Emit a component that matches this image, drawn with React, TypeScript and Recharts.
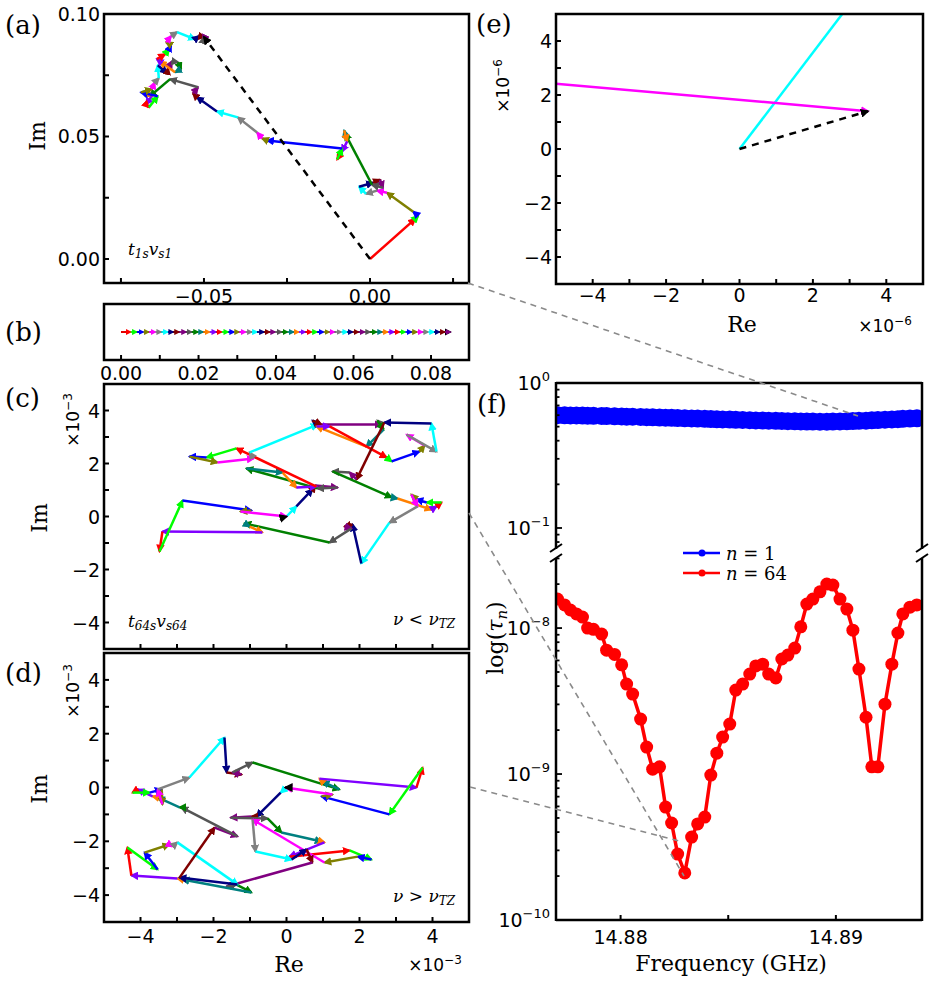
import React from "react";
import { ScatterChart, Scatter, XAxis, YAxis, LineChart, Line } from "recharts";

const SANS = "DejaVu Sans";
const SERIF = "DejaVu Serif";

const PALETTE = [
  "#ff0000", "#00ff00", "#0000ff", "#808000", "#ff00ff",
  "#808080", "#00ffff", "#000080", "#800000", "#800080",
  "#555555", "#008000", "#008080", "#ff8000", "#8000ff",
];

// (a) t1s vs1 phasor chain, Re / Im
const aRe = [0, 0.0136, 0.0145, 0.013, 0.0051, 0.0021, -0.0012, -0.0033, 0.0009, 0.003, 0.0039, 0.0006, -0.0075, -0.0078, -0.0069, -0.0084, -0.0099, -0.0084, -0.031, -0.0325, -0.034, -0.0398, -0.0461, -0.0521, -0.0533, -0.0518, -0.0602, -0.0663, -0.0681, -0.0657, -0.0675, -0.0666, -0.0639, -0.069, -0.0657, -0.0648, -0.0636, -0.0639, -0.0611, -0.0608, -0.0596, -0.0578, -0.0569, -0.0587, -0.0633, -0.0642, -0.0617, -0.0605, -0.0599, -0.0614, -0.0599, -0.0581, -0.0527, -0.0515, -0.0497, -0.0503, -0.05];
const aIm = [0, 0.0164, 0.0176, 0.0193, 0.027, 0.0279, 0.0266, 0.0295, 0.0311, 0.0324, 0.0291, 0.0303, 0.0512, 0.0525, 0.048, 0.0439, 0.0406, 0.0451, 0.0484, 0.0492, 0.0516, 0.0578, 0.0602, 0.066, 0.0676, 0.0701, 0.0734, 0.0664, 0.0684, 0.0664, 0.0631, 0.0619, 0.0664, 0.068, 0.0693, 0.0721, 0.0738, 0.0791, 0.0758, 0.0779, 0.0807, 0.0803, 0.0775, 0.0762, 0.0807, 0.0816, 0.0836, 0.0857, 0.0873, 0.0885, 0.091, 0.0926, 0.0897, 0.091, 0.0906, 0.0889, 0.0906];

// (b) chain along the real axis
const bRe = [0, 0.0025, 0.0041, 0.0058, 0.0072, 0.0089, 0.0104, 0.0121, 0.0135, 0.015, 0.0168, 0.0183, 0.0199, 0.0212, 0.0229, 0.0246, 0.026, 0.0277, 0.0292, 0.0305, 0.0322, 0.0338, 0.0351, 0.0369, 0.0384, 0.0398, 0.0415, 0.043, 0.0446, 0.0459, 0.0476, 0.0492, 0.0506, 0.0523, 0.0538, 0.0551, 0.0569, 0.0584, 0.0598, 0.0613, 0.0629, 0.0643, 0.066, 0.0674, 0.0689, 0.0705, 0.0719, 0.0734, 0.075, 0.0764, 0.0779, 0.0793, 0.0808, 0.0822, 0.0836, 0.085];

// (c) t64s vs64, nu < nu_TZ (x1e-3)
const cRe = [0, 0.27, 0.71, 0.79, 1.4, 0.85, -1.1, -0.11, 0.27, 0.82, -1.37, -2.19, -2.66, -1.89, -0.9, -1.01, 0.85, 0.71, 0.96, 2.6, 2.49, 2.66, 2.19, 0.82, 1.18, 2.74, 2.88, 3.64, 3.78, 3.29, 4.11, 3.97, 2.68, 1.92, 1.73, 1.26, 2.88, 3.04, 3.97, 4.11, 4.25, 3.84, 3.56, 3.42, 3.59, 2.82, 2.05, 1.81, 1.59, 1.78, 1.18, -1.15, -1.01, -0.66, -3.4, -3.48, -2.85, -0.96, -1.26, 0.0035];
const cIm = [0, 0.38, 1.02, 1.17, 1.09, 1.06, 1.81, 1.66, 1.09, 1.13, 2.57, 2.23, 2.26, 2.04, 2.19, 2.42, 3.47, 3.62, 3.47, 3.47, 3.62, 3.28, 2.64, 3.4, 3.4, 2.23, 2.08, 2.45, 2.68, 3.09, 2.45, 3.51, 3.55, 1.4, 1.66, 1.7, 0.72, 0.68, 0.26, 0.38, 0.53, 0.53, 0.64, 0.83, 0.38, -0.23, -1.77, -0.3, -0.38, -0.45, -0.98, -0.26, -0.38, -0.6, -0.57, -1.32, 0.6, 0.23, 0.19, 0.0014];

// (d) nu > nu_TZ (x1e-3)
const dRe = [0, -0.16, -0.82, -0.96, -1.53, -0.52, -0.14, 0.96, 1.04, 0.08, 1.73, 2.33, 1.95, 1.04, -0.93, -0.85, 0.14, 0.55, 0.71, -1.64, -1.37, -0.96, -2.85, -2.99, -4.25, -4.36, -3.53, -3.89, -3.21, -3.12, -2.99, -1.34, -2.93, -1.97, -1.34, -2.88, -2.93, -3.53, -3.67, -4.08, -4.22, -3.75, -3.42, -3.4, -3.53, -2.66, -1.7, -1.64, -1.23, -1.48, -0.93, 1.45, 0.99, 0.9, 3.56, 3.73, 2.82, 0.96, 1.26, -0.03];
const dIm = [0, -0.19, -1.08, -1.08, -1.12, -1.15, -1.67, -2.01, -2.04, -2.57, -2.34, -2.68, -2.57, -2.79, -1.19, -2.38, -2.68, -2.3, -2.79, -3.68, -3.61, -3.9, -3.42, -3.38, -3.27, -2.23, -3.05, -2.42, -2.12, -2.19, -2.04, -3.61, -3.35, -1.49, -1.82, -0.74, -0.74, -0.37, -0.33, -0.07, -0.19, -0.19, -0.07, -0.63, -0.07, 0.37, 1.86, 0.56, 0.48, 0.56, 0.93, -0.07, 0.22, 0.33, 0, 0.74, -1.0, -0.33, -0.26, 0];

// (e) first and last links of (c) near the origin (x1e-6)
const eFirstRe = [0, 3.36];
const eFirstIm = [0, 6.0];
const eLastRe = [-6.0, 3.5];
const eLastIm = [2.54, 1.4];

// (f) tau_n vs frequency
const freqs = [14.87707, 14.8774, 14.87767, 14.87795, 14.87823, 14.87847, 14.87874, 14.87912, 14.87935, 14.87972, 14.88005, 14.88028, 14.88056, 14.88093, 14.88121, 14.88149, 14.88181, 14.88209, 14.88237, 14.88265, 14.88298, 14.8833, 14.88358, 14.88391, 14.88419, 14.88447, 14.88474, 14.88507, 14.88535, 14.88567, 14.886, 14.88628, 14.8866, 14.88688, 14.88721, 14.88749, 14.88777, 14.88809, 14.88837, 14.88865, 14.88893, 14.88926, 14.88958, 14.88986, 14.89019, 14.89051, 14.89079, 14.89107, 14.8914, 14.89167, 14.89195, 14.89228, 14.8926, 14.89288, 14.89311, 14.89344, 14.89376];
const tau1 = [0.6, 0.599, 0.598, 0.597, 0.596, 0.595, 0.594, 0.592, 0.591, 0.589, 0.588, 0.586, 0.585, 0.583, 0.581, 0.58, 0.578, 0.576, 0.575, 0.573, 0.571, 0.569, 0.568, 0.566, 0.564, 0.562, 0.561, 0.559, 0.557, 0.556, 0.554, 0.552, 0.551, 0.549, 0.548, 0.547, 0.545, 0.544, 0.543, 0.542, 0.542, 0.541, 0.541, 0.542, 0.543, 0.544, 0.546, 0.548, 0.55, 0.553, 0.555, 0.558, 0.561, 0.563, 0.566, 0.568, 0.571];
const tau64 = [1.58e-8, 1.44e-8, 1.33e-8, 1.25e-8, 1.19e-8, 1.0e-8, 9.8e-9, 9.1e-9, 7.06e-9, 6.6e-9, 5.6e-9, 4.13e-9, 3.53e-9, 2.38e-9, 1.53e-9, 1.08e-9, 1.12e-9, 5.94e-10, 4.62e-10, 2.83e-10, 2.1e-10, 3.7e-10, 4.55e-10, 5.07e-10, 9.84e-10, 1.39e-9, 1.79e-9, 2.2e-9, 3.76e-9, 4.13e-9, 4.84e-9, 5.5e-9, 5.66e-9, 4.84e-9, 4.55e-9, 6.14e-9, 6.53e-9, 7.29e-9, 1.02e-8, 1.46e-8, 1.58e-8, 1.77e-8, 2.0e-8, 1.97e-8, 1.58e-8, 1.35e-8, 9.68e-9, 5.24e-9, 2.45e-9, 1.12e-9, 1.12e-9, 3.01e-9, 5.66e-9, 9.25e-9, 1.25e-8, 1.39e-8, 1.44e-8];

const fRows = freqs.map((f, i) => ({ f, t1: tau1[i], t64: tau64[i] }));

const near = (a: number, b: number) => Math.abs(a - b) < 1e-9;
const minus = (s: string) => s.replace("-", "\u2212");

function labelSet(pairs: [number, string][]) {
  return (v: number) => {
    const hit = pairs.find((p) => near(p[0], v));
    return hit ? hit[1] : null;
  };
}
const evenInts = labelSet([[-4, "\u22124"], [-2, "\u22122"], [0, "0"], [2, "2"], [4, "4"]]);
const noLabel = () => null;
const unitTicks = [-4, -3, -2, -1, 0, 1, 2, 3, 4];

function bottomTick(labelOf: (v: number) => string | null, gap: number) {
  return (p: any) => {
    const s = labelOf(p.payload.value);
    return (
      <g>
        <line x1={p.x} y1={p.y} x2={p.x} y2={p.y - 5} stroke="#000" strokeWidth={2} />
        {s !== null && (
          <text x={p.x} y={p.y + gap} textAnchor="middle" fontFamily={SANS} fontSize={19} fill="#000">
            {s}
          </text>
        )}
      </g>
    );
  };
}

function leftTick(labelOf: (v: number) => string | null) {
  return (p: any) => {
    const s = labelOf(p.payload.value);
    return (
      <g>
        <line x1={p.x} y1={p.y} x2={p.x + 5} y2={p.y} stroke="#000" strokeWidth={2} />
        {s !== null && (
          <text x={p.x - 4} y={p.y + 7} textAnchor="end" fontFamily={SANS} fontSize={19} fill="#000">
            {s}
          </text>
        )}
      </g>
    );
  };
}

function logTick(p: any) {
  const v = p.payload.value;
  const e = Math.round(Math.log10(v));
  const major = Math.abs(v / Math.pow(10, e) - 1) < 1e-6;
  return (
    <g>
      <line x1={p.x} y1={p.y} x2={p.x + (major ? 6 : 3.5)} y2={p.y} stroke="#000" strokeWidth={1.8} />
      {major && (
        <text x={p.x - 6} y={p.y + 7} textAnchor="end" fontFamily={SANS} fontSize={19} fill="#000">
          10
          <tspan dy={-9} fontSize={13}>{minus(String(e))}</tspan>
        </text>
      )}
    </g>
  );
}

function logTicks(lo: number, hi: number) {
  const out: number[] = [];
  for (let d = -11; d <= 0; d++) {
    for (let k = 1; k <= 9; k++) {
      const v = k * Math.pow(10, d);
      if (v >= lo * 0.999 && v <= hi * 1.001) out.push(v);
    }
  }
  return out;
}

const noShape = () => <g />;

function segments(re: number[], im: number[], offset: number, w: number, id: string) {
  const out = [];
  for (let i = 0; i < re.length - 1; i++) {
    const ci = (i + offset) % PALETTE.length;
    out.push(
      <Scatter
        key={id + i}
        data={[{ x: re[i], y: im[i] }, { x: re[i + 1], y: im[i + 1] }]}
        fill={PALETTE[ci]}
        line={{ stroke: PALETTE[ci], strokeWidth: w, markerEnd: `url(#ah${ci})` }}
        shape={noShape}
        isAnimationActive={false}
      />
    );
  }
  return out;
}

function resultant(endRe: number, endIm: number, id: string, w = 2.5) {
  return (
    <Scatter
      key={id}
      data={[{ x: 0, y: 0 }, { x: endRe, y: endIm }]}
      fill="#000"
      line={{ stroke: "#000", strokeWidth: w, strokeDasharray: "7 6", markerEnd: "url(#ahk)" }}
      shape={noShape}
      isAnimationActive={false}
    />
  );
}

function PhasorPanel(props: {
  box: number[];
  margin: { top: number; right: number; bottom: number; left: number };
  yWidth: number;
  xHeight: number;
  xDomain: number[];
  yDomain: number[];
  xTicks: number[];
  yTicks?: number[];
  xLabel: (v: number) => string | null;
  yLabel?: (v: number) => string | null;
  xGap: number;
  items: React.ReactNode[];
}) {
  const { box, margin } = props;
  return (
    <div style={{ position: "absolute", left: box[0], top: box[1] }}>
      <ScatterChart width={box[2]} height={box[3]} margin={margin}>
        <XAxis
          type="number"
          dataKey="x"
          domain={props.xDomain}
          allowDataOverflow
          ticks={props.xTicks}
          interval={0}
          tick={bottomTick(props.xLabel, props.xGap)}
          tickLine={false}
          axisLine={false}
          tickSize={0}
          tickMargin={0}
          height={props.xHeight}
        />
        <YAxis
          type="number"
          dataKey="y"
          domain={props.yDomain}
          allowDataOverflow
          ticks={props.yTicks}
          interval={0}
          tick={props.yTicks ? leftTick(props.yLabel || noLabel) : false}
          tickLine={false}
          axisLine={false}
          tickSize={0}
          tickMargin={0}
          width={props.yWidth}
        />
        {props.items}
      </ScatterChart>
    </div>
  );
}

function Sup({ base, exp, ...rest }: any) {
  return (
    <text {...rest}>
      {base}
      <tspan dy={-7} fontSize={12}>{exp}</tspan>
    </text>
  );
}

export default function App() {
  const aN = aRe.length - 1;
  const cN = cRe.length - 1;
  const dN = dRe.length - 1;
  const bIm = bRe.map(() => 0);
  const frame = { fill: "none", stroke: "#000", strokeWidth: 2.5 };
  const zoomLine = { stroke: "#8a8a8a", strokeWidth: 1.6, strokeDasharray: "6 5" };

  return (
    <div style={{ position: "absolute", left: 0, top: 0, width: 935, height: 985, background: "#fff", overflow: "hidden" }}>
      {/* (a) */}
      <PhasorPanel
        box={[0, 0, 480, 310]}
        margin={{ top: 14, right: 11, bottom: 0, left: 0 }}
        yWidth={104}
        xHeight={27}
        xDomain={[-0.0801, 0.0298]}
        yDomain={[-0.0098, 0.1]}
        xTicks={[-0.075, -0.05, -0.025, 0, 0.025]}
        yTicks={[0, 0.025, 0.05, 0.075, 0.1]}
        xLabel={labelSet([[-0.05, "\u22120.05"], [0, "0.00"]])}
        yLabel={labelSet([[0, "0.00"], [0.05, "0.05"], [0.1, "0.10"]])}
        xGap={20}
        items={[...segments(aRe, aIm, 0, 2.5, "a"), resultant(aRe[aN], aIm[aN], "ar")]}
      />
      {/* (b) */}
      <PhasorPanel
        box={[0, 290, 480, 100]}
        margin={{ top: 14, right: 11, bottom: 0, left: 0 }}
        yWidth={104}
        xHeight={30}
        xDomain={[-0.0044, 0.0898]}
        yDomain={[-1, 1]}
        xTicks={[0, 0.01, 0.02, 0.03, 0.04, 0.05, 0.06, 0.07, 0.08]}
        xLabel={labelSet([[0, "0.00"], [0.02, "0.02"], [0.04, "0.04"], [0.06, "0.06"], [0.08, "0.08"]])}
        xGap={20}
        items={[resultant(bRe[bRe.length - 1], 0, "br", 2), ...segments(bRe, bIm, 0, 1.8, "b")]}
      />
      {/* (c) */}
      <PhasorPanel
        box={[0, 370, 480, 285]}
        margin={{ top: 14, right: 11, bottom: 0, left: 0 }}
        yWidth={104}
        xHeight={6}
        xDomain={[-5, 5]}
        yDomain={[-5, 5]}
        xTicks={unitTicks}
        yTicks={unitTicks}
        xLabel={noLabel}
        yLabel={evenInts}
        xGap={20}
        items={[...segments(cRe, cIm, 6, 2.5, "c"), resultant(cRe[cN], cIm[cN], "cr")]}
      />
      {/* (d) */}
      <PhasorPanel
        box={[0, 640, 480, 310]}
        margin={{ top: 13, right: 11, bottom: 0, left: 0 }}
        yWidth={104}
        xHeight={28}
        xDomain={[-5, 5]}
        yDomain={[-5, 5]}
        xTicks={unitTicks}
        yTicks={unitTicks}
        xLabel={evenInts}
        yLabel={evenInts}
        xGap={21}
        items={[...segments(dRe, dIm, 6, 2.5, "d"), resultant(dRe[dN], dIm[dN], "dr")]}
      />
      {/* (e) */}
      <PhasorPanel
        box={[470, 0, 465, 310]}
        margin={{ top: 14, right: 12, bottom: 0, left: 0 }}
        yWidth={86}
        xHeight={26}
        xDomain={[-5, 5]}
        yDomain={[-5, 5]}
        xTicks={unitTicks}
        yTicks={unitTicks}
        xLabel={evenInts}
        yLabel={evenInts}
        xGap={18}
        items={[
          ...segments(eFirstRe, eFirstIm, 6, 2.5, "e1"),
          ...segments(eLastRe, eLastIm, 4, 2.5, "e2"),
          resultant(eLastRe[1], eLastIm[1], "er"),
        ]}
      />
      {/* (f) upper segment */}
      <div style={{ position: "absolute", left: 470, top: 370 }}>
        <LineChart width={465} height={180} data={fRows} margin={{ top: 13, right: 13, bottom: 0, left: 0 }}>
          <XAxis type="number" dataKey="f" domain={[14.877, 14.894]} allowDataOverflow hide />
          <YAxis
            type="number"
            scale="log"
            domain={[0.0705, 1]}
            allowDataOverflow
            ticks={logTicks(0.0705, 1)}
            interval={0}
            tick={logTick}
            tickLine={false}
            axisLine={false}
            tickSize={0}
            tickMargin={0}
            width={86}
          />
          <Line dataKey="t1" stroke="#0000ff" strokeWidth={3} dot={{ r: 9, fill: "#0000ff", stroke: "none" }} isAnimationActive={false} />
        </LineChart>
      </div>
      {/* (f) lower segment */}
      <div style={{ position: "absolute", left: 470, top: 550 }}>
        <LineChart width={465} height={435} data={fRows} margin={{ top: 8, right: 13, bottom: 0, left: 0 }}>
          <XAxis
            type="number"
            dataKey="f"
            domain={[14.877, 14.894]}
            allowDataOverflow
            ticks={[14.88, 14.885, 14.89]}
            interval={0}
            tick={bottomTick(labelSet([[14.88, "14.88"], [14.89, "14.89"]]), 24)}
            tickLine={false}
            axisLine={false}
            tickSize={0}
            tickMargin={0}
            height={65}
          />
          <YAxis
            type="number"
            scale="log"
            domain={[1e-10, 3.02e-8]}
            allowDataOverflow
            ticks={logTicks(1e-10, 3.02e-8)}
            interval={0}
            tick={logTick}
            tickLine={false}
            axisLine={false}
            tickSize={0}
            tickMargin={0}
            width={86}
          />
          <Line dataKey="t64" stroke="#ff0000" strokeWidth={3.5} dot={{ r: 6.5, fill: "#ff0000", stroke: "none" }} isAnimationActive={false} />
        </LineChart>
      </div>

      <svg width={935} height={985} style={{ position: "absolute", left: 0, top: 0, pointerEvents: "none" }}>
        <defs>
          {PALETTE.map((c, i) => (
            <marker key={i} id={`ah${i}`} viewBox="0 0 10 10" refX="8" refY="5" markerWidth="3.4" markerHeight="3.4" orient="auto" markerUnits="strokeWidth">
              <path d="M0,0 L10,5 L0,10 z" fill={c} />
            </marker>
          ))}
          <marker id="ahk" viewBox="0 0 10 10" refX="8" refY="5" markerWidth="3.6" markerHeight="3.6" orient="auto" markerUnits="strokeWidth">
            <path d="M0,0 L10,5 L0,10 z" fill="#000" />
          </marker>
        </defs>

        {/* frames */}
        <rect x={104} y={14} width={365} height={269} {...frame} />
        <rect x={104} y={304} width={365} height={56} {...frame} />
        <rect x={104} y={384} width={365} height={265} {...frame} />
        <rect x={104} y={653} width={365} height={269} {...frame} />
        <rect x={556} y={14} width={367} height={270} {...frame} />
        <line x1={556} y1={383} x2={922} y2={383} {...frame} />
        <line x1={556} y1={920} x2={922} y2={920} {...frame} />
        <line x1={556} y1={382} x2={556} y2={549} {...frame} />
        <line x1={556} y1={558} x2={556} y2={921} {...frame} />
        <line x1={922} y1={382} x2={922} y2={549} {...frame} />
        <line x1={922} y1={558} x2={922} y2={921} {...frame} />
        {[556, 922].map((x) => (
          <g key={x} stroke="#000" strokeWidth={2}>
            <line x1={x - 6} y1={552} x2={x + 6} y2={544} />
            <line x1={x - 6} y1={562} x2={x + 6} y2={554} />
          </g>
        ))}

        {/* zoom guides */}
        <line x1={468} y1={283} x2={858} y2={416} {...zoomLine} />
        <line x1={469} y1={513} x2={684} y2={876} {...zoomLine} />
        <line x1={470} y1={787} x2={683} y2={842} {...zoomLine} />

        {/* panel tags */}
        <g fontFamily={SERIF} fontSize={26} fill="#000">
          <text x={5} y={34}>(a)</text>
          <text x={5} y={341}>(b)</text>
          <text x={5} y={407}>(c)</text>
          <text x={5} y={682}>(d)</text>
          <text x={476} y={33}>(e)</text>
          <text x={477} y={413}>(f)</text>
        </g>

        {/* axis titles */}
        <g fontFamily={SERIF} fontSize={22} fill="#000" textAnchor="middle">
          <text transform="translate(45,136) rotate(-90)">Im</text>
          <text transform="translate(47,518) rotate(-90)">Im</text>
          <text transform="translate(47,789) rotate(-90)">Im</text>
          <text x={289} y={972}>Re</text>
          <text x={742} y={332}>Re</text>
          <text x={731} y={971}>Frequency (GHz)</text>
          <text transform="translate(503,638) rotate(-90)">
            log(<tspan fontStyle="italic">{"\u03c4"}</tspan>
            <tspan fontStyle="italic" fontSize={15} dy={4}>n</tspan>
            <tspan dy={-4}>)</tspan>
          </text>
        </g>
        <g fontFamily={SANS} fontSize={17} fill="#000" textAnchor="middle">
          <Sup base={"\u00d710"} exp={"\u22123"} transform="translate(79,420) rotate(-90)" />
          <Sup base={"\u00d710"} exp={"\u22123"} transform="translate(79,691) rotate(-90)" />
          <Sup base={"\u00d710"} exp={"\u22126"} transform="translate(509,86) rotate(-90)" />
          <Sup base={"\u00d710"} exp={"\u22123"} x={435} y={971} />
          <Sup base={"\u00d710"} exp={"\u22126"} x={885} y={332} />
        </g>

        {/* annotations */}
        <g fontFamily={SERIF} fontStyle="italic" fontSize={17} fill="#000">
          <text x={128} y={255}>
            t<tspan fontSize={12} dy={3}>1s</tspan>
            <tspan dy={-3}>v</tspan>
            <tspan fontSize={12} dy={3}>s1</tspan>
          </text>
          <text x={128} y={627}>
            t<tspan fontSize={12} dy={3}>64s</tspan>
            <tspan dy={-3}>v</tspan>
            <tspan fontSize={12} dy={3}>s64</tspan>
          </text>
          <text x={393} y={625}>
            {"\u03bd"}<tspan fontStyle="normal">{" < "}</tspan>{"\u03bd"}
            <tspan fontSize={12} dy={3}>TZ</tspan>
          </text>
          <text x={393} y={902}>
            {"\u03bd"}<tspan fontStyle="normal">{" > "}</tspan>{"\u03bd"}
            <tspan fontSize={12} dy={3}>TZ</tspan>
          </text>
        </g>

        {/* legend for (f) */}
        <g>
          <line x1={683} y1={553} x2={720} y2={553} stroke="#0000ff" strokeWidth={2.5} />
          <circle cx={702} cy={553} r={3.5} fill="#0000ff" />
          <line x1={683} y1={573} x2={720} y2={573} stroke="#ff0000" strokeWidth={2.5} />
          <circle cx={702} cy={573} r={3.5} fill="#ff0000" />
          <text x={726} y={560} fontFamily={SERIF} fontSize={18} fill="#000">
            <tspan fontStyle="italic">n</tspan> = 1
          </text>
          <text x={726} y={580} fontFamily={SERIF} fontSize={18} fill="#000">
            <tspan fontStyle="italic">n</tspan> = 64
          </text>
        </g>
      </svg>
    </div>
  );
}
